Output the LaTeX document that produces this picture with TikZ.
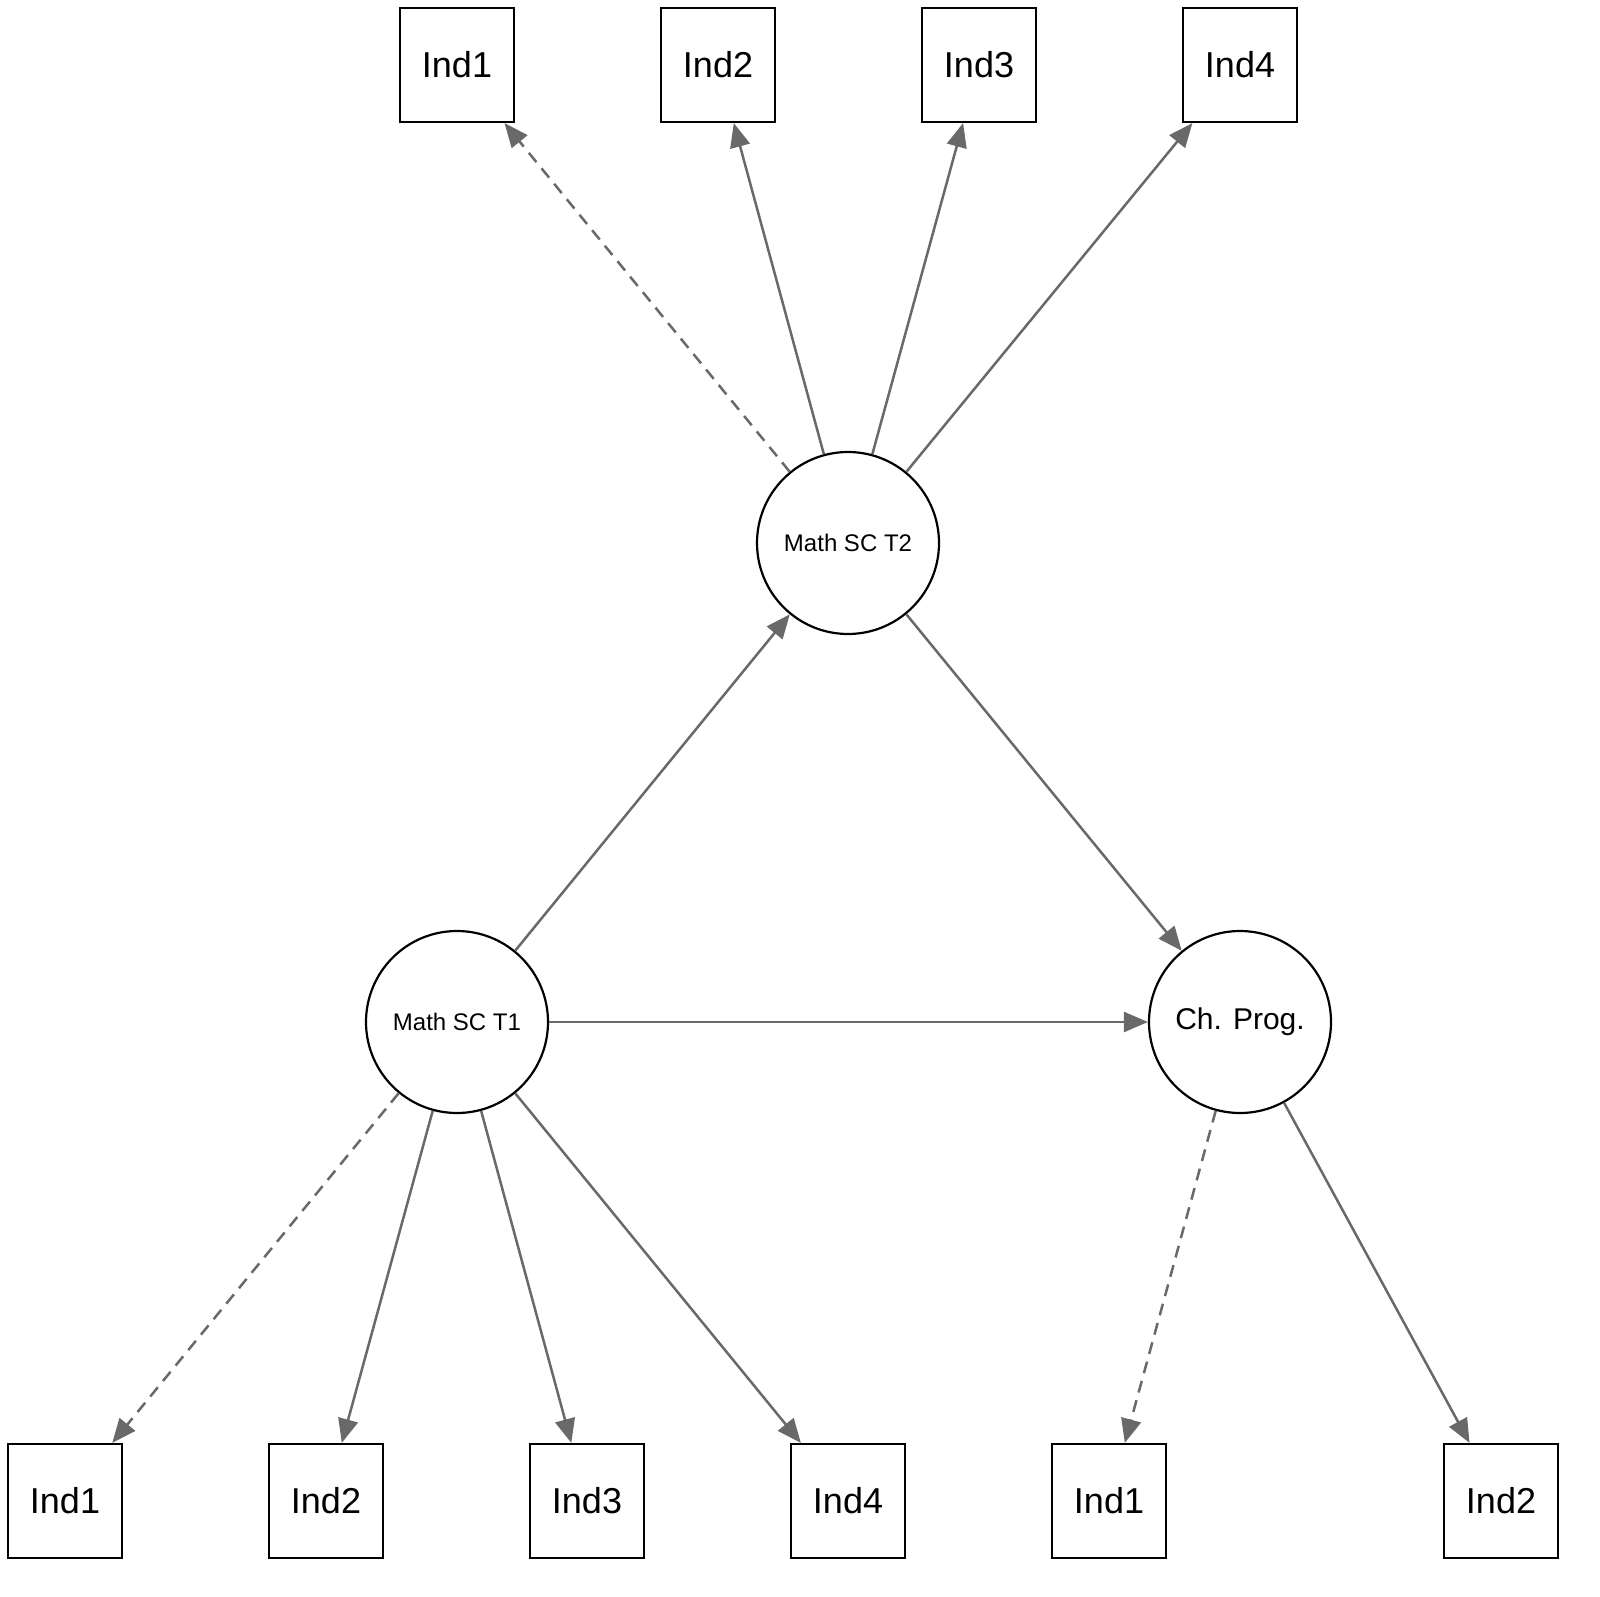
\documentclass[tikz,border=0pt]{standalone}
\usepackage{fontspec}
\setmainfont{Liberation Sans}
\usetikzlibrary{arrows.meta}
\tikzset{every picture/.style={line width=1pt}}
\tikzset{
  ind/.style={draw=black,line width=2.2pt,minimum size=114pt,inner sep=0pt,font=\fontsize{36}{40}\selectfont},
  lat/.style={draw=black,circle,line width=2.2pt,minimum size=182pt,inner sep=0pt},
  path/.style={draw={rgb,255:red,105;green,105;blue,105},line width=2.5pt,-{Triangle[length=24pt,width=20pt]}},
  fix/.style={path,dash pattern=on 12pt off 8pt}
}
\begin{document}
\begin{tikzpicture}[x=1pt,y=-1pt]
\useasboundingbox (0,0) rectangle (1600,1597);

%Latent variables
\node [lat,font=\fontsize{24}{28}\selectfont] (t2) at (848,543) {Math SC T2};
\node [lat,font=\fontsize{24}{28}\selectfont] (t1) at (457,1022) {Math SC T1};
\node [lat,font=\fontsize{30}{34}\selectfont] (cp) at (1240,1022) {Ch. Prog.};

%Indicators T2
\node [ind] (a1) at (457,65) {Ind1};
\node [ind] (a2) at (718,65) {Ind2};
\node [ind] (a3) at (979,65) {Ind3};
\node [ind] (a4) at (1240,65) {Ind4};

%Indicators T1
\node [ind] (b1) at (65,1501) {Ind1};
\node [ind] (b2) at (326,1501) {Ind2};
\node [ind] (b3) at (587,1501) {Ind3};
\node [ind] (b4) at (848,1501) {Ind4};

%Indicators Ch. Prog.
\node [ind] (c1) at (1109,1501) {Ind1};
\node [ind] (c2) at (1501,1501) {Ind2};

%Loadings
\draw [fix] (t2) -- (a1);
\foreach \n in {2,3,4} \draw [path] (t2) -- (a\n);
\draw [fix] (t1) -- (b1);
\foreach \n in {2,3,4} \draw [path] (t1) -- (b\n);
\draw [fix] (cp) -- (c1);
\draw [path] (cp) -- (c2);

%Structural paths
\draw [path] (t1) -- (t2);
\draw [path] (t1) -- (cp);
\draw [path] (t2) -- (cp);

\end{tikzpicture}
\end{document}
